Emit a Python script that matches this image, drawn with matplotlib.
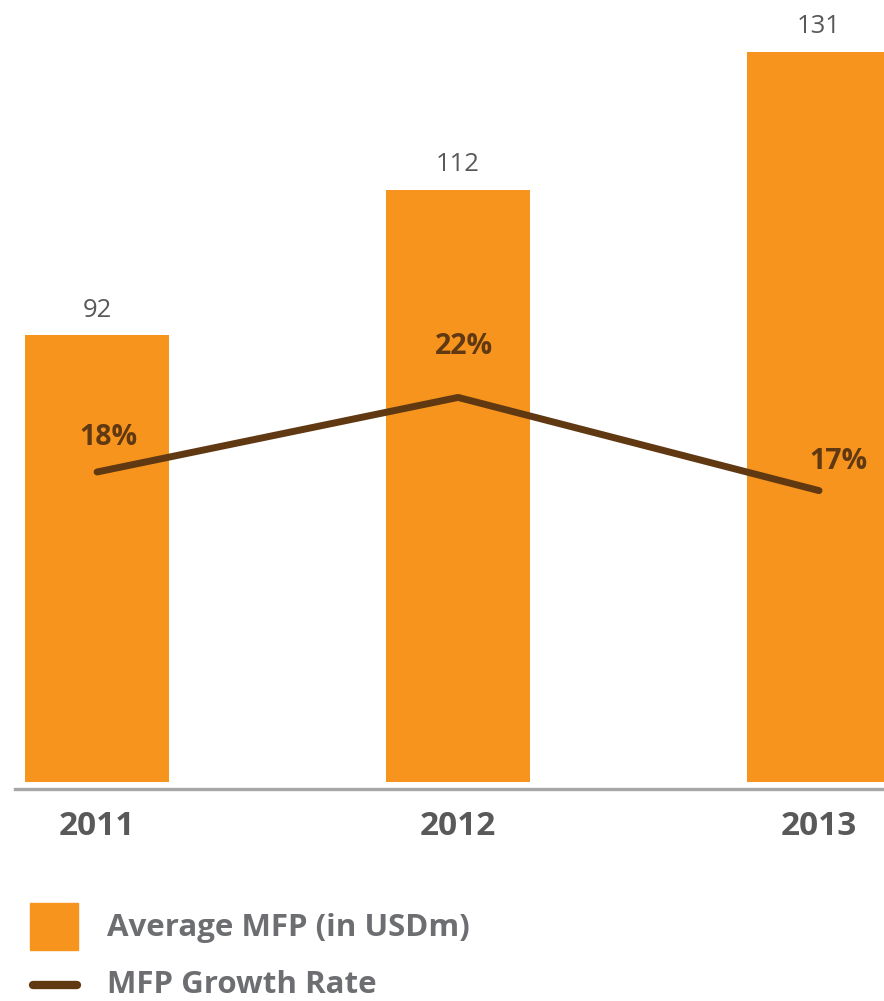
import numpy as np
import matplotlib.pyplot as plt
from matplotlib.patches import Rectangle
from matplotlib.lines import Line2D

years = ["2011", "2012", "2013"]
avg_mfp = [92, 112, 131]          # USDm
growth = [18, 22, 17]             # %

ORANGE = "#F7941D"
BROWN = "#603913"
GREY = "#595959"
LEG_GREY = "#6D6E71"

plt.rcParams["font.family"] = ["Open Sans", "DejaVu Sans"]

fig = plt.figure(figsize=(8.84, 10.01), dpi=100)
ax = fig.add_axes([0, 0.2188, 1, 0.7812])
x = np.arange(len(years))

bars = ax.bar(x, avg_mfp, width=0.4, color=ORANGE, bottom=0)
ax.set_ylim(30.5, 138.1)
ax.set_xlim(-0.269, 2.18)
ax.bar_label(bars, labels=[str(v) for v in avg_mfp], padding=9,
             fontsize=18.5, color=GREY)

ax.set_xticks(x)
ax.set_xticklabels(years, fontsize=24, fontweight="bold", color=GREY)
ax.tick_params(axis="x", length=0, pad=20)
ax.set_yticks([])
for s in ax.spines.values():
    s.set_visible(False)

ax2 = ax.twinx()
ax2.set_ylim(1.37, 43.32)
ax2.plot(x, growth, color=BROWN, lw=5, solid_capstyle="round")
ax2.set_yticks([])
for s in ax2.spines.values():
    s.set_visible(False)

# label offsets (points) for the growth percentages
label_off = [(8, 25), (4, 37), (14, 21)]
for xi, g, off in zip(x, growth, label_off):
    ax2.annotate(f"{g}%", xy=(xi, g), xytext=off, textcoords="offset points",
                 ha="center", va="center", fontsize=20.5, fontweight="bold",
                 color=BROWN)

# baseline
fig.add_artist(Line2D([0.017, 1.0], [0.2118, 0.2118], color="#A6A6A6", lw=2.4))

# legend
W, H = 884, 1001
fig.add_artist(Rectangle((30 / W, 1 - 950 / H), 48 / W, 47 / H,
                         color=ORANGE, transform=fig.transFigure))
fig.text(107 / W, 1 - 928 / H, "Average MFP (in USDm)", fontsize=22.5,
         fontweight="bold", color=LEG_GREY, va="center", ha="left")
fig.add_artist(Line2D([33 / W, 77 / W], [1 - 985 / H, 1 - 985 / H],
                      color=BROWN, lw=6, solid_capstyle="round"))
fig.text(107 / W, 1 - 985 / H, "MFP Growth Rate", fontsize=22.5,
         fontweight="bold", color=LEG_GREY, va="center", ha="left")

fig.savefig("out.png", dpi=100)
